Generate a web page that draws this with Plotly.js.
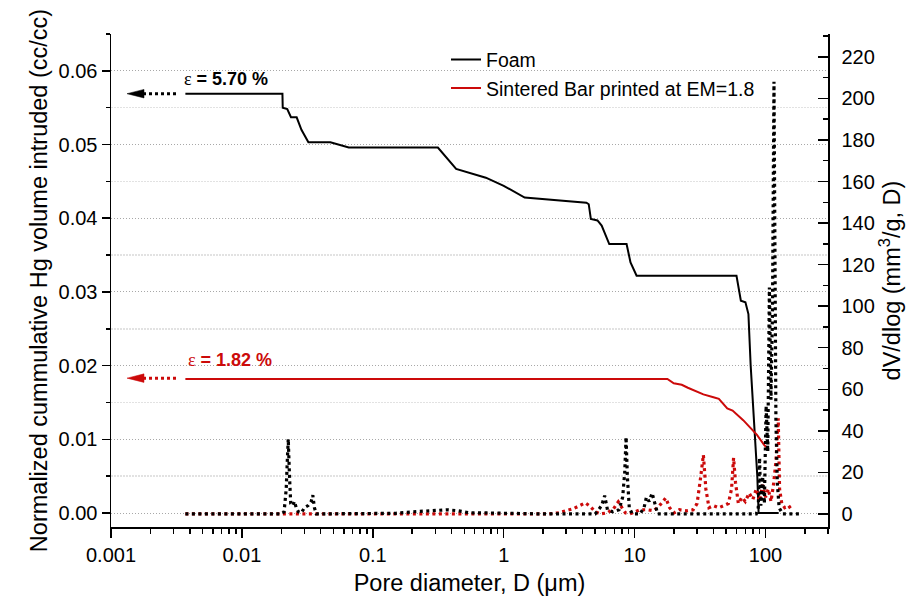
<!DOCTYPE html>
<html>
<head>
<meta charset="utf-8">
<script src="https://cdn.plot.ly/plotly-3.0.1.min.js"></script>
<style>body{margin:0;background:#fff}#chart{width:910px;height:600px}</style>
</head>
<body>
<div id="chart"></div>
<script>
// ---- data ----
const foamCumX = [0.0037, 0.0204, 0.0205, 0.0222, 0.0237, 0.0262, 0.0285, 0.0322, 0.0474, 0.0655, 0.314, 0.433, 0.73, 1.0, 1.445, 4.28, 4.46, 4.63, 5.2, 5.6, 6.4, 8.68, 9.3, 10.35, 60, 64.8, 70.2, 74, 77, 80, 84, 86.5, 88.5, 126];
const foamCumY = [0.0569, 0.0569, 0.0550, 0.0548, 0.0537, 0.0537, 0.0520, 0.0503, 0.0503, 0.0496, 0.0496, 0.0467, 0.0455, 0.0444, 0.0428, 0.0421, 0.0419, 0.0399, 0.0397, 0.0390, 0.0365, 0.0365, 0.0340, 0.0322, 0.0322, 0.0288, 0.0286, 0.0270, 0.0200, 0.0150, 0.0090, 0.0050, 0.0000, 0.0000];

const barCumX = [0.0037, 17.8, 19.9, 22.9, 25.5, 33.5, 40, 44, 51, 56, 67.5, 78, 86, 98, 104];
const barCumY = [0.0182, 0.0182, 0.0176, 0.0174, 0.0170, 0.0161, 0.0157, 0.0155, 0.0142, 0.0139, 0.0126, 0.0114, 0.0106, 0.0092, 0.0088];

const foamDvX = [0.0037, 0.020, 0.021, 0.0218, 0.0222, 0.0226, 0.0231, 0.0236, 0.0245, 0.0252, 0.026, 0.027, 0.0285, 0.030, 0.032, 0.0338, 0.0348, 0.0358, 0.037, 0.10, 0.15, 0.20, 0.27, 0.37, 0.45, 0.55, 0.70, 1.0, 2.0, 5.0, 5.6, 5.9, 6.2, 6.8, 7.6, 8.1, 8.4, 8.6, 8.8, 9.1, 9.6, 11, 11.8, 12.3, 12.9, 13.6, 14.3, 15, 40, 85, 88, 90, 92, 95, 98, 101, 104, 107, 110, 113, 116, 120, 123, 127, 135, 187];
const foamDvY = [0, 0, 1, 12, 25, 36, 18, 5, 4, 6, 3, 1, 0.5, 3, 4, 6, 9, 3, 0, 0, 0.3, 1, 1.5, 2, 1.5, 0.5, 0.5, 0.3, 0, 0, 4, 8.8, 2, 1, 2, 8, 20, 37, 18, 3, 0, 0, 3, 8, 6, 10, 5, 0, 0, 0, 3, 27, 4, 18, 5, 52, 30, 109, 55, 98, 208, 45, 15, 3, 0, 0];

const barDvX = [0.0037, 2.2, 2.6, 3.0, 3.4, 3.8, 4.2, 4.6, 5.0, 5.5, 6.2, 6.9, 7.5, 8.0, 8.5, 9.2, 10, 11, 12.5, 14, 15.5, 17.3, 18.5, 20, 22, 25, 28, 30, 32, 33.5, 35, 37, 40, 44, 48, 52, 55, 57, 59, 62, 66, 70, 75, 80, 85, 90, 95, 100, 105, 110, 115, 120, 125, 128, 133, 140, 150, 158];
const barDvY = [0, 0, 0.5, 1.5, 2.5, 4, 5.3, 3.5, 1, 0, 0.5, 2.5, 5.8, 3, 0.5, 0, 1, 2, 2, 1.5, 4, 7.7, 3, 0.5, 2, 1.5, 2, 5, 18, 28.4, 12, 3, 4, 3, 4, 5, 12, 27, 15, 5, 8, 6, 10, 7, 12, 6, 14, 8, 12, 6, 14, 25, 46, 12, 5, 3, 4, 2];

const seriesNames = ['Foam', 'Sintered Bar printed at EM=1.8'];
const xTickVals = [0.001, 0.01, 0.1, 1, 10, 100];
const xTickText = ['0.001', '0.01', '0.1', '1', '10', '100'];
const porosityLabels = ['5.70 %', '1.82 %'];
const porosityValues = [0.0569, 0.0183];

// ---- styling ----
const BLACK = '#000000';
const RED = '#cc0a0a';
const FONT = 'Liberation Sans, Arial, sans-serif';
const dotDash = '3px,3.5px';

const traces = [
  {x: foamCumX, y: foamCumY, type: 'scatter', mode: 'lines', name: seriesNames[0],
   line: {color: BLACK, width: 2}, xaxis: 'x', yaxis: 'y'},
  {x: barCumX, y: barCumY, type: 'scatter', mode: 'lines', name: seriesNames[1],
   line: {color: RED, width: 2}, xaxis: 'x', yaxis: 'y'},
  {x: barDvX, y: barDvY, type: 'scatter', mode: 'lines', showlegend: false,
   line: {color: RED, width: 3.2, dash: dotDash}, xaxis: 'x', yaxis: 'y2'},
  {x: foamDvX, y: foamDvY, type: 'scatter', mode: 'lines', showlegend: false,
   line: {color: BLACK, width: 3.2, dash: dotDash}, xaxis: 'x', yaxis: 'y2'}
];

const px2paper = p => (p - 111) / 717;
const arrowShapes = [];
const colors = [BLACK, RED];
porosityValues.forEach((v, i) => {
  const c = colors[i];
  arrowShapes.push({type: 'line', xref: 'paper', yref: 'y', x0: px2paper(143), x1: px2paper(177), y0: v, y1: v,
                    line: {color: c, width: 3, dash: '3px,3px'}});
  const h = 0.00058;
  arrowShapes.push({type: 'path', xref: 'paper', yref: 'y',
    path: `M ${px2paper(127)},${v} L ${px2paper(144)},${v + h} L ${px2paper(144)},${v - h} Z`,
    fillcolor: c, line: {color: c, width: 0.5}});
});

const annY = [0.0589, 0.0208];
const annX = [px2paper(182), px2paper(186)];
const annotations = porosityLabels.map((t, i) => ({
  text: `<span style="font-family:'Liberation Serif',serif;font-weight:normal">ε</span> = ${t}`,
  xref: 'paper', yref: 'y', x: annX[i], y: annY[i], xanchor: 'left', yanchor: 'middle',
  showarrow: false, font: {family: FONT, size: 18, color: colors[i], weight: 'bold'}
}));

const axLine = {showline: true, linecolor: BLACK, linewidth: 1.5, tickcolor: BLACK, tickwidth: 1.5};

const layout = {
  width: 910, height: 600,
  margin: {l: 111, r: 82, t: 34, b: 73},
  paper_bgcolor: '#ffffff', plot_bgcolor: '#ffffff',
  font: {family: FONT, size: 20, color: BLACK},
  showlegend: true,
  legend: {x: px2paper(446), y: 0.987, xanchor: 'left', yanchor: 'top', bgcolor: 'rgba(0,0,0,0)',
           font: {family: FONT, size: 19.5}, tracegroupgap: 0},
  xaxis: Object.assign({}, axLine, {
    type: 'log', range: [-3, Math.log10(300)], tickmode: 'array', tickvals: xTickVals, ticktext: xTickText,
    ticks: 'outside', ticklen: 9, showgrid: false, zeroline: false,
    minor: {ticks: 'outside', ticklen: 5, dtick: 'D1', tickcolor: BLACK, tickwidth: 1.5, showgrid: false},
    title: {text: 'Pore diameter, D (μm)', font: {family: FONT, size: 23.5}, standoff: 10}
  }),
  xaxis2: Object.assign({}, axLine, {
    type: 'log', range: [-3, Math.log10(300)], overlaying: 'x', side: 'top', anchor: 'y',
    tickmode: 'array', tickvals: xTickVals, ticks: 'inside', ticklen: 10, showticklabels: false, showgrid: false,
    minor: {ticks: 'inside', ticklen: 5, dtick: 'D1', tickcolor: BLACK, tickwidth: 1.5, showgrid: false}
  }),
  yaxis: Object.assign({}, axLine, {
    range: [-0.0019, 0.065], dtick: 0.01, tick0: 0, tickformat: '.2f', ticks: 'outside', ticklen: 8,
    zeroline: false, showgrid: true, gridcolor: '#a8a8a8', gridwidth: 1, griddash: '1px,2px',
    minor: {dtick: 0.005, ticks: 'outside', ticklen: 4, tickcolor: BLACK, tickwidth: 1.5,
            showgrid: true, gridcolor: '#e2e2e2', gridwidth: 1.5, griddash: '2px,1px'},
    title: {text: 'Normalized cummulative Hg volume intruded (cc/cc)', font: {family: FONT, size: 23.5}, standoff: 4}
  }),
  yaxis2: Object.assign({}, axLine, {
    range: [-6.3, 231], overlaying: 'y', side: 'right', anchor: 'x', dtick: 20, tick0: 0,
    ticks: 'inside', ticklen: 10, ticklabelstandoff: 8, showgrid: false, zeroline: false,
    minor: {dtick: 10, ticks: 'inside', ticklen: 5, tickcolor: BLACK, tickwidth: 1.5, showgrid: false},
    title: {text: 'dV/dlog (mm<sup>3</sup>/g, D)', font: {family: FONT, size: 23.5}, standoff: 6}
  }),
  shapes: arrowShapes,
  annotations: annotations
};

Plotly.newPlot('chart', traces, layout, {displayModeBar: false, staticPlot: true});
</script>
</body>
</html>
